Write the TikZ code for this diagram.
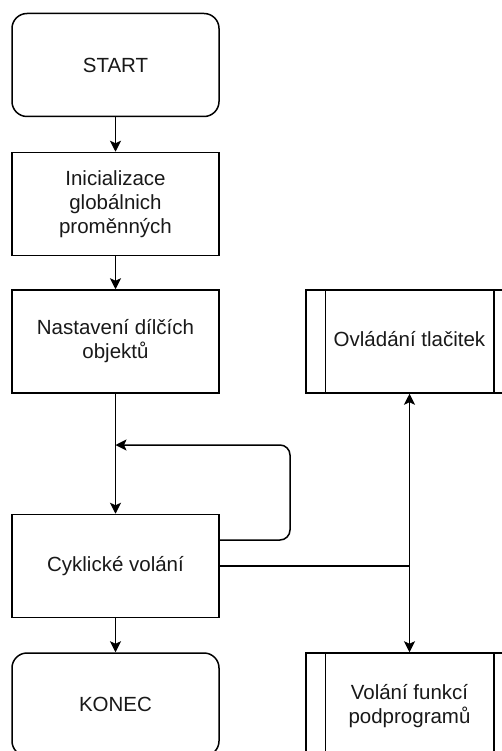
\documentclass[tikz,border=0pt]{standalone}
\usepackage{fontspec}
\setmainfont{Liberation Sans}
\usetikzlibrary{arrows.meta}
\begin{document}
\begin{tikzpicture}[x=1pt,y=-1pt,
  every node/.style={font=\fontsize{20.5}{24}\selectfont, text=black!90, align=center},
  box/.style={draw, line width=1.5pt, minimum width=207pt, minimum height=103pt, inner sep=0pt},
  terminal/.style={box, rounded corners=15pt},
  subproc/.style={box},
  arr/.style={draw, line width=1.5pt, -{Stealth[length=11pt,width=11pt,inset=2.5pt]}},
  link/.style={draw, line width=1.5pt}
]
\clip (0,0) rectangle (502,751);
\fill[white] (0,0) rectangle (502,751);

% main column
\node[terminal] (start) at (115.5,65) {START};
\node[box] (init) at (115.5,204) {Inicializace\\globálnich\\proměnných};
\node[box] (nast) at (115.5,341.5) {Nastavení dílčích\\objektů};
\node[box] (cyk) at (115.5,566) {Cyklické volání};
\node[terminal] (konec) at (115.5,704.5) {KONEC};

% predefined-process boxes on the right
\node[subproc] (ovl) at (409.5,341.5) {};
\node at (409.5,339) {Ovládání tlačitek};
\draw[line width=1.5pt] ([xshift=20pt]ovl.north west) -- ([xshift=20pt]ovl.south west);
\draw[line width=1.5pt] ([xshift=-20pt]ovl.north east) -- ([xshift=-20pt]ovl.south east);

\node[subproc] (vol) at (409.5,704.5) {};
\node at (409.5,706) {Volání funkcí\\podprogramů};
\draw[line width=1.5pt] ([xshift=20pt]vol.north west) -- ([xshift=20pt]vol.south west);
\draw[line width=1.5pt] ([xshift=-20pt]vol.north east) -- ([xshift=-20pt]vol.south east);

% main flow
\draw[arr] (start) -- (init);
\draw[arr] (init) -- (nast);
\draw[arr] (nast) -- (cyk);
\draw[arr] (cyk) -- (konec);

% loop back into the main flow
\coordinate (merge) at (115.5,445);
\draw[arr, rounded corners=10pt] ([yshift=26pt]cyk.east) -- (290,540) -- (290,445) -- (merge);

% branch to both subprograms
\draw[link] (cyk.east) -- (409.5,566) coordinate (br);
\draw[arr] (br) -- (ovl.south);
\draw[arr] (br) -- (vol.north);
\end{tikzpicture}
\end{document}
